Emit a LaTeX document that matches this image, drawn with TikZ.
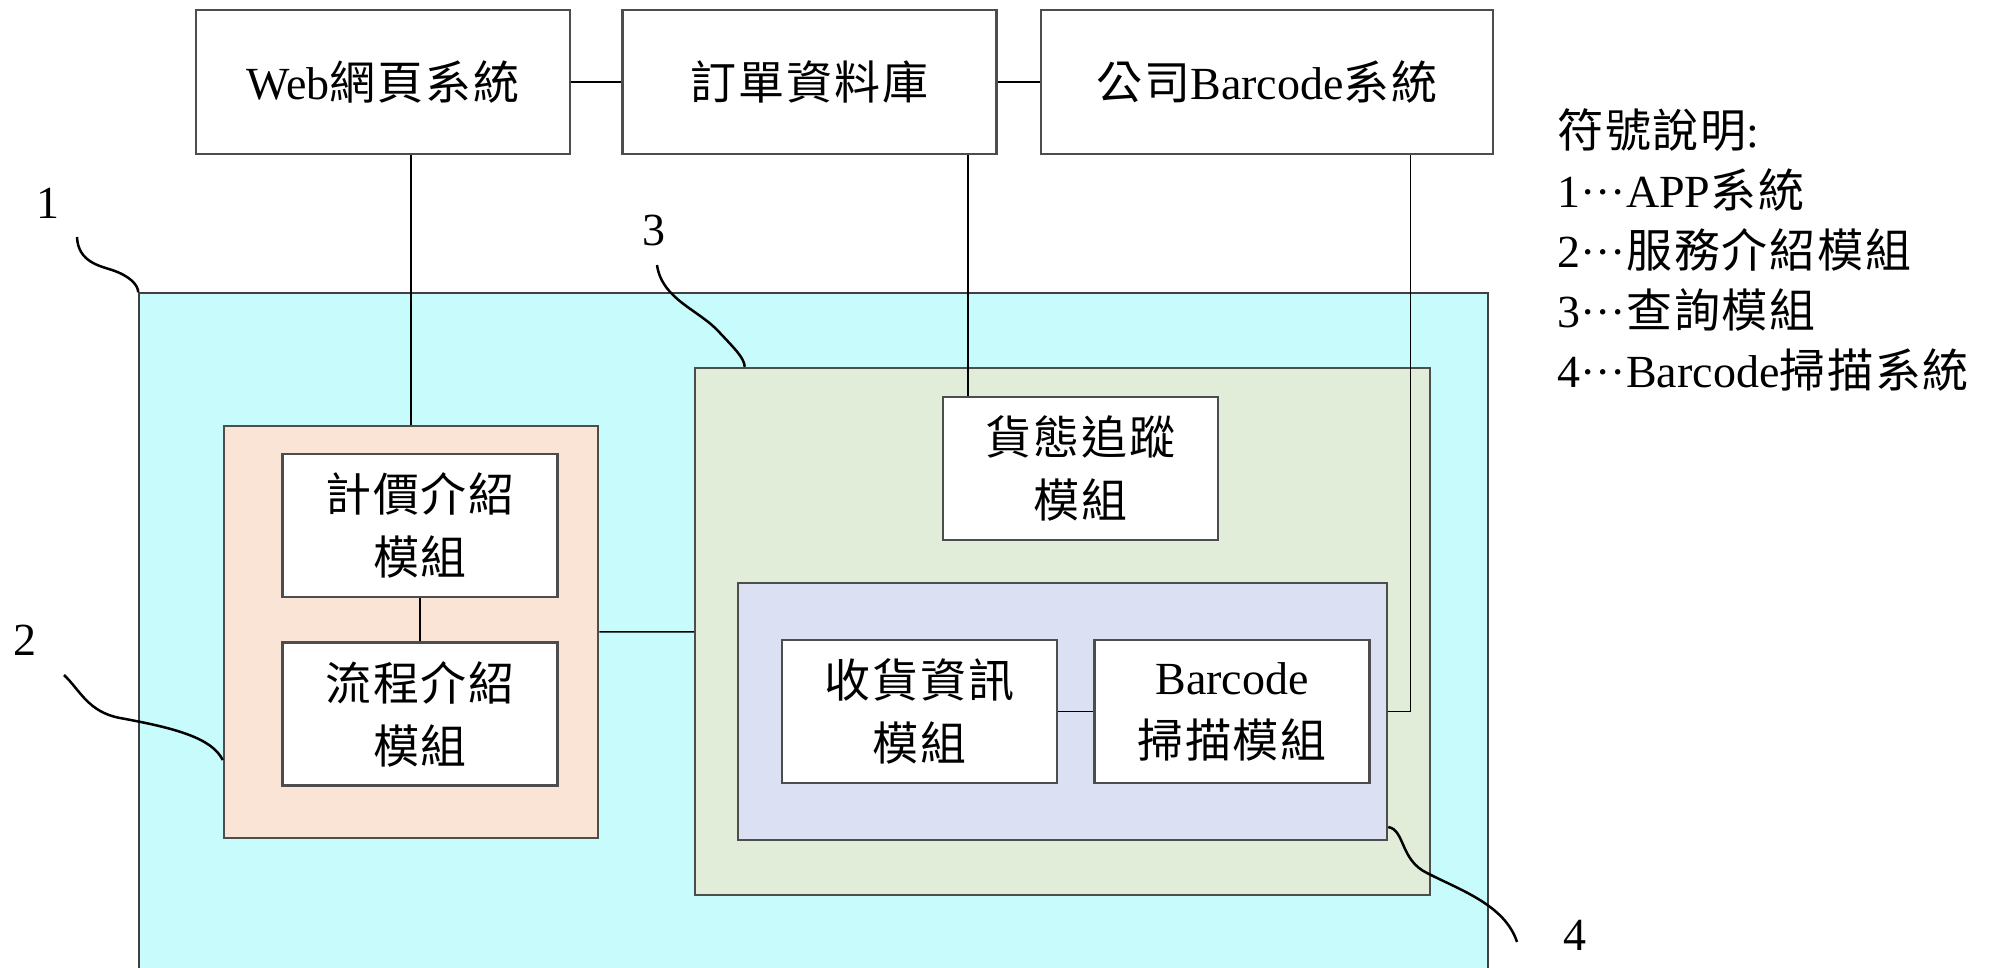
\documentclass[tikz,border=0pt]{standalone}
\usepackage{fontspec}
\setmainfont{Liberation Serif}
\newfontfamily\cjkfont[LetterSpace=4]{Noto Sans CJK TC}
\usetikzlibrary{positioning}

\definecolor{appcyan}{HTML}{C8FCFC}
\definecolor{introorange}{HTML}{FAE4D5}
\definecolor{querygreen}{HTML}{E2EDD9}
\definecolor{scanblue}{HTML}{DBE0F2}
\definecolor{boxline}{HTML}{4D4D4D}

\begin{document}
\begin{tikzpicture}[x=1pt,y=-1pt,font=\fontsize{46}{63}\selectfont,
    module/.style={draw=boxline,line width=2.5pt,fill=white,minimum width=275pt,minimum height=143pt,inner sep=0pt,align=center},
    system/.style={module,minimum width=374pt,minimum height=144pt},
    group/.style={draw=boxline,line width=2.5pt,inner sep=0pt},
    link/.style={line width=1.5pt},
    leader/.style={line width=2.5pt}]

        \useasboundingbox (0,0) rectangle (1995,968);

        \node[system] (web) at (383,82) {Web{\cjkfont 網頁系統}};

        \node[system] (order) [right=50pt of web] {{\cjkfont 訂單資料庫}};

        \node[system,minimum width=452pt] (barsys) [right=42pt of order] {{\cjkfont 公司}Barcode{\cjkfont 系統}};

        \node[group,fill=appcyan,draw=black!75,line width=1.5pt,minimum width=1349pt,minimum height=682pt] (app) at (813.5,634) {};

        \node[group,fill=introorange,minimum width=374pt,minimum height=412pt] (intro) at (411,632) {};

        \node[group,fill=querygreen,minimum width=735pt,minimum height=527pt] (query) at (1062.5,631.5) {};

        \node[group,fill=scanblue,minimum width=649pt,minimum height=257pt] (scan) at (1062.5,711.5) {};

        \node[module] (price) at (420,525.5) {{\cjkfont 計價介紹}\\{\cjkfont 模組}};

        \node[module] (flow) [below=43pt of price] {{\cjkfont 流程介紹}\\{\cjkfont 模組}};

        \node[module] (track) at (1080.5,468.5) {{\cjkfont 貨態追蹤}\\{\cjkfont 模組}};

        \node[module] (recv) at (919.5,711.5) {{\cjkfont 收貨資訊}\\{\cjkfont 模組}};

        \node[module] (scanmod) [right=35pt of recv] {Barcode\\{\cjkfont 掃描模組}};

        \path[link] (web) edge (order)
                    (order) edge (barsys)
                    (price) edge (flow)
                    (recv) edge (scanmod)
                    (intro) edge (query);

        \draw[link] (intro.north) -- (intro.north |- web.south);

        \draw[link] ([xshift=26pt]track.north west) -- ([xshift=26pt]track.north west |- order.south);

        \draw[link] (scan.east) -| ([xshift=-84pt]barsys.south east);

        \node (n1) at (48,203) {1};

        \node (n2) at (25,640) {2};

        \node (n3) at (654,230) {3};

        \node (n4) at (1575,935) {4};

        \coordinate (t1) at (77,237);
        \coordinate (t2) at (64,675);
        \coordinate (t3) at (657,265);
        \coordinate (t4) at (1517,942);

        \draw[leader] (t1) .. controls (78,262) and (100,266) .. (112,270) .. controls (130,276) and (138,285) .. (app.north west);

        \draw[leader] (t2) .. controls (80,690) and (88,712) .. (120,718) .. controls (175,728) and (212,738) .. ([yshift=-128pt]intro.west);

        \draw[leader] (t3) .. controls (662,300) and (700,310) .. (720,333) .. controls (736,350) and (744,358) .. ([xshift=51pt]query.north west);

        \draw[leader] ([yshift=-115.5pt]scan.east) .. controls (1405,830) and (1400,860) .. (1427,873) .. controls (1460,890) and (1505,905) .. (t4);

        \node[align=left,anchor=north west,inner sep=0pt,font=\fontsize{46}{60}\selectfont] (legend) at (1557,108)
            {{\cjkfont 符號說明}:\\1···APP{\cjkfont 系統}\\2···{\cjkfont 服務介紹模組}\\3···{\cjkfont 查詢模組}\\4···Barcode{\cjkfont 掃描系統}};

\end{tikzpicture}
\end{document}
